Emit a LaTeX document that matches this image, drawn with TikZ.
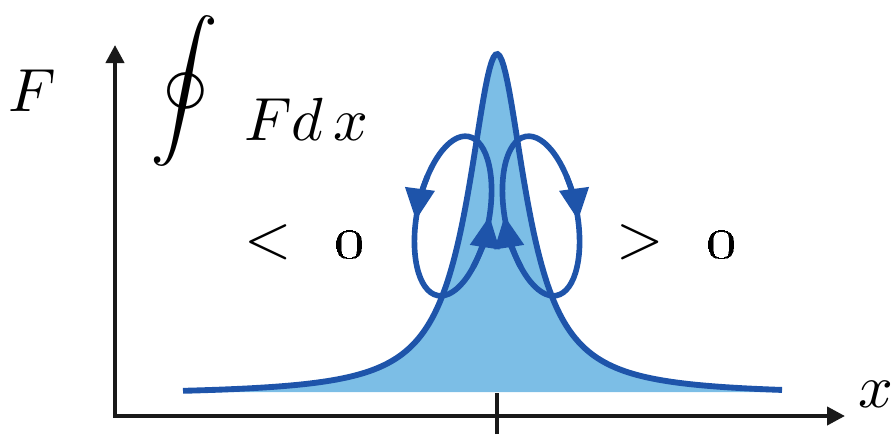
\documentclass[tikz,border=0pt]{standalone}
\usepackage{amsmath,amssymb}
\usetikzlibrary{arrows.meta}
\definecolor{peakfill}{RGB}{124,190,230}
\definecolor{peakline}{RGB}{30,84,170}

\begin{document}
\begin{tikzpicture}[x=0.03cm, y=0.03cm, >={Triangle[length=0.54cm,width=0.54cm]},
  axis/.style={line width=3.5pt, black!90},
  loopline/.style={line width=4.8pt, peakline},
  looptip/.style={-{Triangle[length=0.95cm,width=0.86cm]}},
  lbl/.style={inner sep=0pt, scale=5.2}]
  \useasboundingbox (0,0) rectangle (892,434);
  %% Axes
  \coordinate (orig) at (115,18);
  \coordinate (ytop) at (115,389);
  \coordinate (xend) at (845,18);
  \draw[axis,->] ([yshift=-0.05cm]orig) -- (ytop);
  \draw[axis,->] ([xshift=-0.05cm]orig) -- (xend);
  %% tick at the peak position
  \coordinate (tickbot) at (497,0);
  \coordinate (ticktop) at (497,41);
  \draw[axis] (tickbot) -- (ticktop);
  %% Peak: filled area, then the outline
  \fill[peakfill] (183,42) -- plot[domain=183:782, samples=300] (\x,{39+341/(1+((\x-497)/35)^2)}) -- (782,42) -- cycle;
  \draw[line width=5pt, peakline] plot[domain=183:782, samples=300] (\x,{39+341/(1+((\x-497)/35)^2)});
  %% Left loop (counter-clockwise)
  \begin{scope}[shift={(453,218)}, rotate=-11]
    \draw[loopline] (0,0) ellipse [x radius=36, y radius=81];
    \draw[loopline, looptip] (155:36 and 81) arc[start angle=155, end angle=188, x radius=36, y radius=81];
    \draw[loopline, looptip] (-35:36 and 81) arc[start angle=-35, end angle=5, x radius=36, y radius=81];
  \end{scope}
  %% Right loop (clockwise)
  \begin{scope}[shift={(541,218)}, rotate=11]
    \draw[loopline] (0,0) ellipse [x radius=36, y radius=81];
    \draw[loopline, looptip] (25:36 and 81) arc[start angle=25, end angle=-8, x radius=36, y radius=81];
    \draw[loopline, looptip] (215:36 and 81) arc[start angle=215, end angle=175, x radius=36, y radius=81];
  \end{scope}
  %% Labels
  \node[lbl] (Fy) at (32,343) {$F$};
  \node[inner sep=0pt, scale=5.8] (ointsym) at (184,343) {$\displaystyle\oint$};
  \node[lbl, anchor=base west] (Fdx) at (243,294) {$Fd\,x$};
  \node[lbl, anchor=base west] (ltzero) at (243,177) {$<$\hspace{0.71em}\oldstylenums{0}};
  \node[lbl, anchor=base west] (gtzero) at (615,177) {$>$\hspace{0.71em}\oldstylenums{0}};
  \node[lbl] (xlab) at (876,40) {$x$};
\end{tikzpicture}
\end{document}
